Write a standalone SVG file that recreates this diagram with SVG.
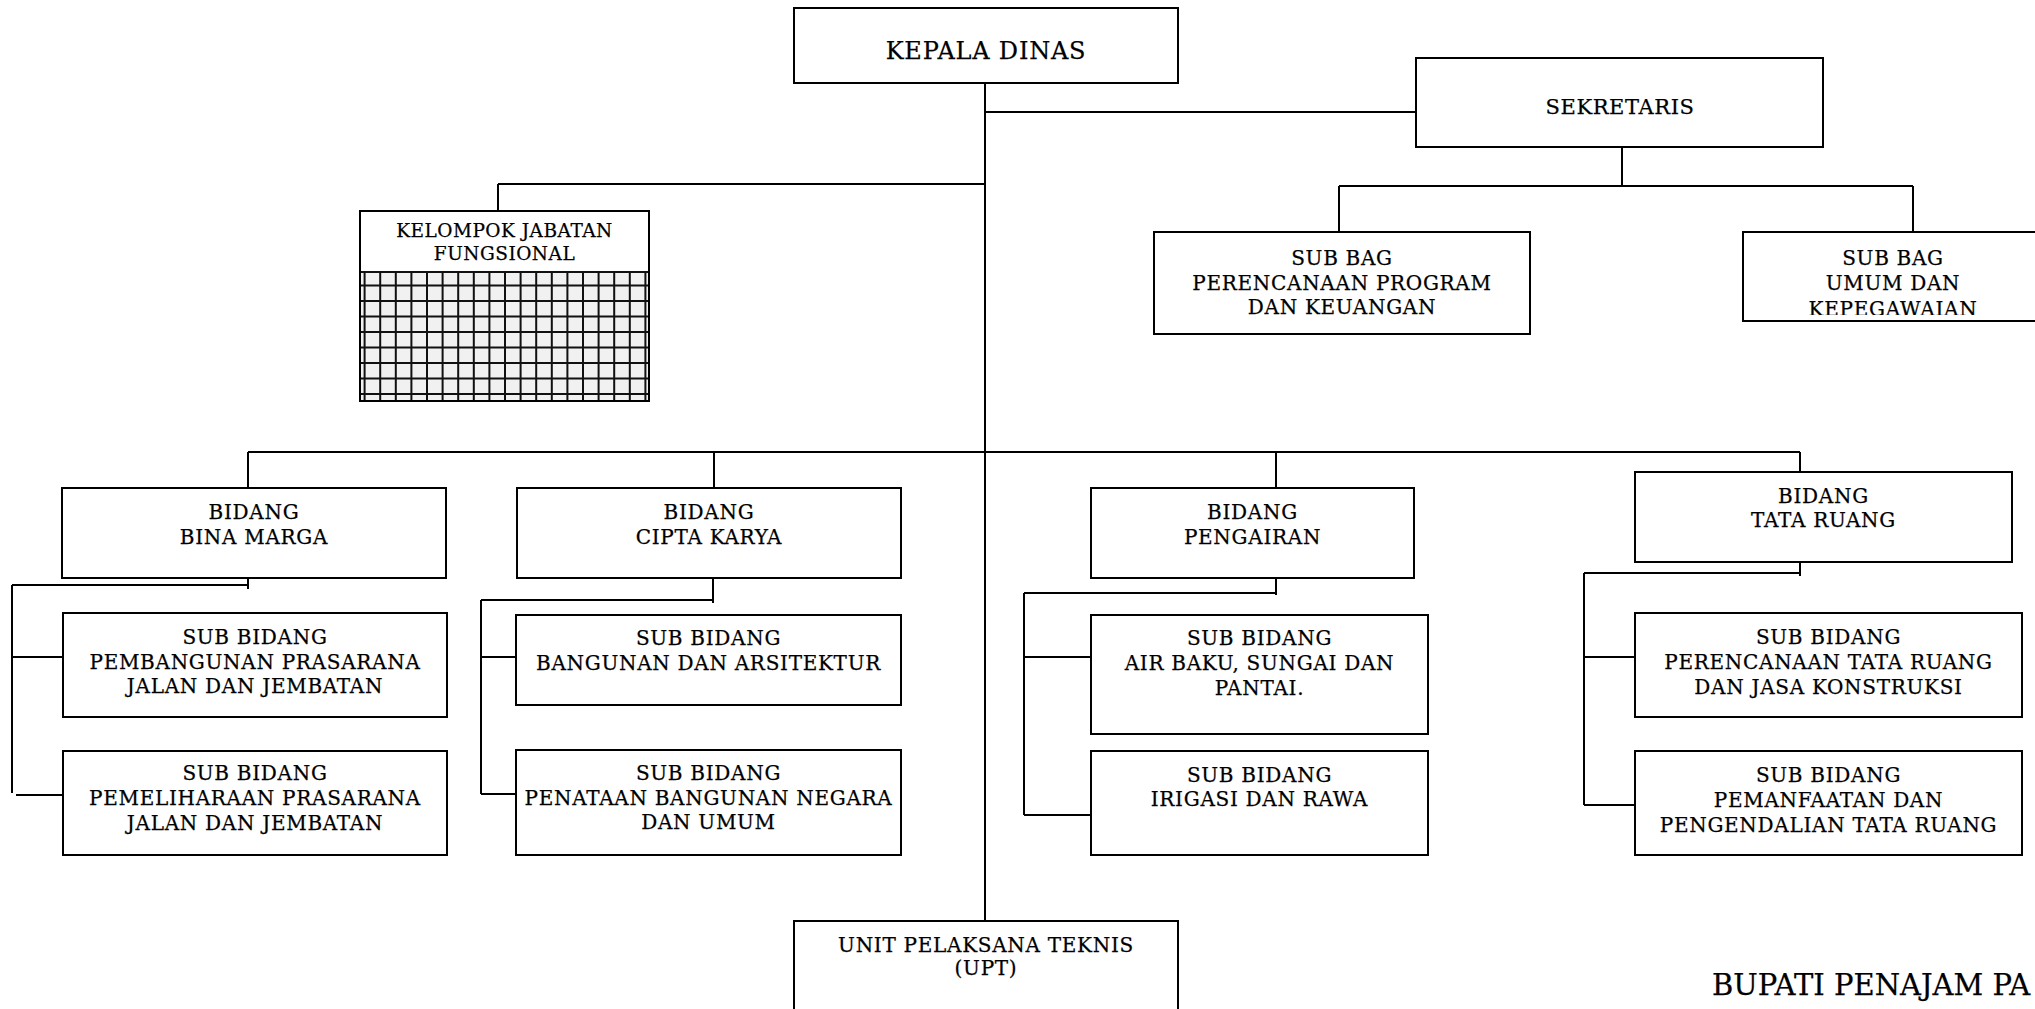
<svg xmlns="http://www.w3.org/2000/svg" width="2035" height="1009" viewBox="0 0 2035 1009">
<style>
.box{fill:#fff;stroke:#000;stroke-width:2}
.t{font-family:"DejaVu Serif",serif;font-size:20px;letter-spacing:0.7px;text-anchor:middle;fill:#000;stroke:#000;stroke-width:0.25px}
.c{fill:none;stroke:#000;stroke-width:2}
.g{fill:none;stroke:#111;stroke-width:2}
</style>
<defs>
<clipPath id="clipUmum"><rect x="1743" y="232" width="300" height="83"/></clipPath>
</defs>
<rect width="2035" height="1009" fill="#fff"/>
<g id="connectors">
<path class="c" d="M985 83V921M985 112H1416"/>
<path class="c" d="M1622 147V186M1339 186H1913M1339 186V232M1913 186V232"/>
<path class="c" d="M498 184H985M498 184V211"/>
<path class="c" d="M248 452H1800M248 452V488M714 452V488M1276 452V489M1800 452V472"/>
<path class="c" d="M248 569V589M12 585H248M12 585V793M12 657H63M16 795H63"/>
<path class="c" d="M713 573V603M481 600H713M481 600V794M481 657H516M481 794H516"/>
<path class="c" d="M1276 573V595M1024 593H1276M1024 593V815M1024 657H1091M1024 815H1091"/>
<path class="c" d="M1800 558V576M1584 573H1800M1584 573V805M1584 657H1635M1584 805H1635"/>
</g>
<g id="kepala">
<rect class="box" x="794" y="8" width="384" height="75"/>
<text class="t" x="986" y="59" style="font-size:24px;letter-spacing:0.8px">KEPALA DINAS</text>
</g>
<g id="sekretaris">
<rect class="box" x="1416" y="58" width="407" height="89"/>
<text class="t" x="1620" y="114" style="font-size:21px;letter-spacing:0.6px">SEKRETARIS</text>
</g>
<g id="subbag-perencanaan">
<rect class="box" x="1154" y="232" width="376" height="102"/>
<text class="t" x="1342" y="265">SUB BAG</text>
<text class="t" x="1342" y="289.5">PERENCANAAN PROGRAM</text>
<text class="t" x="1342" y="314">DAN KEUANGAN</text>
</g>
<g id="subbag-umum">
<rect class="box" x="1743" y="232" width="300" height="89"/>
<g clip-path="url(#clipUmum)">
<text class="t" x="1893" y="265">SUB BAG</text>
<text class="t" x="1893" y="289.5">UMUM DAN</text>
<text class="t" x="1893" y="316">KEPEGAWAIAN</text>
</g>
</g>
<g id="kelompok">
<rect class="box" x="360" y="211" width="289" height="190"/>
<rect x="361" y="272" width="287" height="128" fill="#f1f1f1"/>
<path class="g" d="M360 272H649M364.6 272V401M380.2 272V401M395.8 272V401M411.4 272V401M427 272V401M442.6 272V401M458.2 272V401M473.8 272V401M489.4 272V401M505 272V401M520.6 272V401M536.2 272V401M551.8 272V401M567.4 272V401M583 272V401M598.6 272V401M614.2 272V401M629.8 272V401M645.4 272V401M360 285.5H649M360 301H649M360 316.5H649M360 332H649M360 347.5H649M360 363H649M360 378.5H649M360 394H649"/>
<rect x="360" y="211" width="289" height="190" fill="none" stroke="#000" stroke-width="2"/>
<text class="t" x="504.5" y="237" style="font-size:18.5px;letter-spacing:0.5px">KELOMPOK JABATAN</text>
<text class="t" x="504.5" y="260" style="font-size:18.5px;letter-spacing:0.5px">FUNGSIONAL</text>
</g>
<g id="bidang-bina-marga">
<rect class="box" x="62" y="488" width="384" height="90"/>
<text class="t" x="254" y="519">BIDANG</text>
<text class="t" x="254" y="543.5">BINA MARGA</text>
</g>
<g id="bidang-cipta-karya">
<rect class="box" x="517" y="488" width="384" height="90"/>
<text class="t" x="709" y="519">BIDANG</text>
<text class="t" x="709" y="543.5">CIPTA KARYA</text>
</g>
<g id="bidang-pengairan">
<rect class="box" x="1091" y="488" width="323" height="90"/>
<text class="t" x="1252.5" y="519">BIDANG</text>
<text class="t" x="1252.5" y="543.5">PENGAIRAN</text>
</g>
<g id="bidang-tata-ruang">
<rect class="box" x="1635" y="472" width="377" height="90"/>
<text class="t" x="1823.5" y="503">BIDANG</text>
<text class="t" x="1823.5" y="527">TATA RUANG</text>
</g>
<g id="sub-pembangunan">
<rect class="box" x="63" y="613" width="384" height="104"/>
<text class="t" x="255" y="644">SUB BIDANG</text>
<text class="t" x="255" y="669">PEMBANGUNAN PRASARANA</text>
<text class="t" x="255" y="693">JALAN DAN JEMBATAN</text>
</g>
<g id="sub-pemeliharaan">
<rect class="box" x="63" y="751" width="384" height="104"/>
<text class="t" x="255" y="780">SUB BIDANG</text>
<text class="t" x="255" y="805">PEMELIHARAAN PRASARANA</text>
<text class="t" x="255" y="830">JALAN DAN JEMBATAN</text>
</g>
<g id="sub-bangunan">
<rect class="box" x="516" y="615" width="385" height="90"/>
<text class="t" x="708.5" y="645">SUB BIDANG</text>
<text class="t" x="708.5" y="670">BANGUNAN DAN ARSITEKTUR</text>
</g>
<g id="sub-penataan">
<rect class="box" x="516" y="750" width="385" height="105"/>
<text class="t" x="708.5" y="780">SUB BIDANG</text>
<text class="t" x="708.5" y="804.5">PENATAAN BANGUNAN NEGARA</text>
<text class="t" x="708.5" y="829">DAN UMUM</text>
</g>
<g id="sub-air-baku">
<rect class="box" x="1091" y="615" width="337" height="119"/>
<text class="t" x="1259.5" y="645">SUB BIDANG</text>
<text class="t" x="1259.5" y="670">AIR BAKU, SUNGAI DAN</text>
<text class="t" x="1259.5" y="695">PANTAI.</text>
</g>
<g id="sub-irigasi">
<rect class="box" x="1091" y="751" width="337" height="104"/>
<text class="t" x="1259.5" y="782">SUB BIDANG</text>
<text class="t" x="1259.5" y="806">IRIGASI DAN RAWA</text>
</g>
<g id="sub-perencanaan-tata-ruang">
<rect class="box" x="1635" y="613" width="387" height="104"/>
<text class="t" x="1828.5" y="644">SUB BIDANG</text>
<text class="t" x="1828.5" y="669">PERENCANAAN TATA RUANG</text>
<text class="t" x="1828.5" y="694">DAN JASA KONSTRUKSI</text>
</g>
<g id="sub-pemanfaatan">
<rect class="box" x="1635" y="751" width="387" height="104"/>
<text class="t" x="1828.5" y="782">SUB BIDANG</text>
<text class="t" x="1828.5" y="807">PEMANFAATAN DAN</text>
<text class="t" x="1828.5" y="832">PENGENDALIAN TATA RUANG</text>
</g>
<g id="upt">
<rect class="box" x="794" y="921" width="384" height="100"/>
<text class="t" x="986" y="952">UNIT PELAKSANA TEKNIS</text>
<text class="t" x="986" y="975">(UPT)</text>
</g>
<text class="t" x="1712" y="995" style="font-size:29px;letter-spacing:0px;text-anchor:start">BUPATI PENAJAM PA</text>
</svg>
